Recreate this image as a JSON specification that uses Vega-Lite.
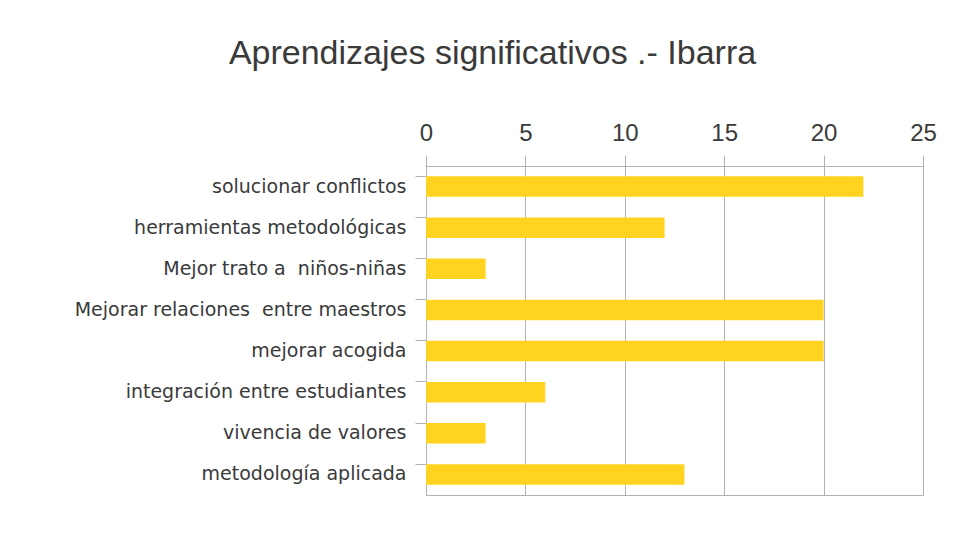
{
  "$schema": "https://vega.github.io/schema/vega-lite/v6.json",
  "width": 497,
  "height": 329,
  "autosize": {"type": "none"},
  "padding": {"left": 426, "top": 166, "right": 44, "bottom": 39},
  "background": "white",
  "title": {
    "text": "Aprendizajes significativos .- Ibarra",
    "font": "Liberation Sans",
    "fontSize": 34,
    "fontWeight": "normal",
    "color": "#3a3a3a",
    "anchor": "middle",
    "dx": -182,
    "offset": 50
  },
  "data": {
    "values": [
      {"categoria": "solucionar conflictos", "valor": 22},
      {"categoria": "herramientas metodológicas", "valor": 12},
      {"categoria": "Mejor trato a \u00a0niños-niñas", "valor": 3},
      {"categoria": "Mejorar relaciones \u00a0entre maestros", "valor": 20},
      {"categoria": "mejorar acogida", "valor": 20},
      {"categoria": "integración entre estudiantes", "valor": 6},
      {"categoria": "vivencia de valores", "valor": 3},
      {"categoria": "metodología aplicada", "valor": 13}
    ]
  },
  "mark": {"type": "bar", "color": "#FFD320"},
  "encoding": {
    "y": {
      "field": "categoria",
      "type": "nominal",
      "sort": null,
      "title": null,
      "scale": {"paddingInner": 0.5, "paddingOuter": 0.25},
      "axis": {
        "bandPosition": 0,
        "tickSize": 11,
        "tickColor": "#b3b3b3",
        "domainColor": "#b3b3b3",
        "labelPadding": 9,
        "labelFont": "DejaVu Sans",
        "labelFontSize": 19,
        "labelColor": "#3a3a3a",
        "labelLimit": 420,
        "grid": false
      }
    },
    "x": {
      "field": "valor",
      "type": "quantitative",
      "title": null,
      "scale": {"domain": [0, 25], "nice": false},
      "axis": {
        "orient": "top",
        "values": [0, 5, 10, 15, 20, 25],
        "tickSize": 11,
        "tickColor": "#b3b3b3",
        "domainColor": "#b3b3b3",
        "gridColor": "#b3b3b3",
        "labelPadding": 10,
        "labelFont": "Liberation Sans",
        "labelFontSize": 24,
        "labelColor": "#3a3a3a",
        "labelFlush": false
      }
    }
  },
  "config": {
    "view": {"stroke": "#b3b3b3"}
  }
}
